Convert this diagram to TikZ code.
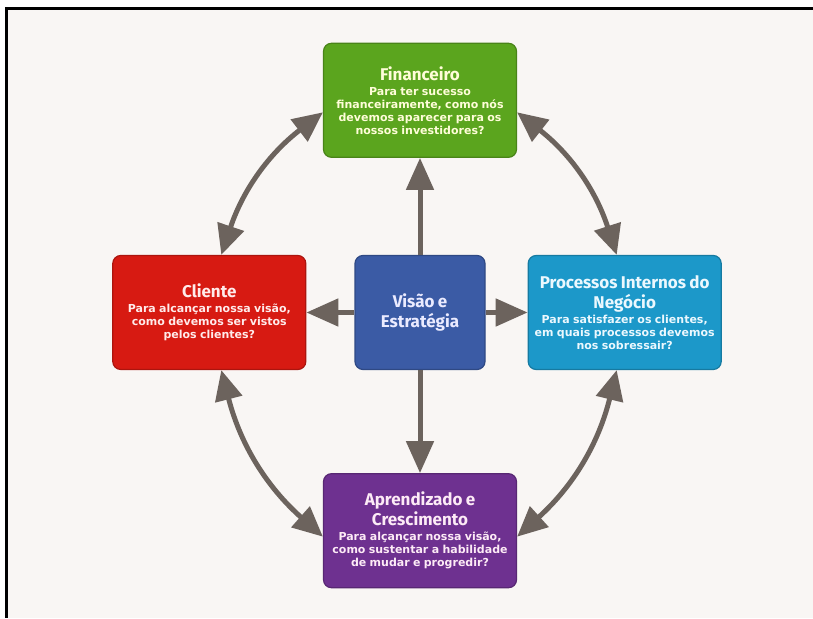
\documentclass[tikz,border=0pt]{standalone}
\usepackage{fontspec}
\setmainfont{DejaVu Sans}
\newfontfamily\titlefam{Fira Sans}
\newfontfamily\bodyfam{DejaVu Sans}
\usetikzlibrary{arrows.meta,positioning,calc}

\definecolor{paper}{HTML}{F9F6F4}
\definecolor{linkgray}{HTML}{6C635D}
\definecolor{fingreen}{HTML}{5BA51E}
\definecolor{clired}{HTML}{D71A12}
\definecolor{visblue}{HTML}{3B5BA5}
\definecolor{procyan}{HTML}{1C98C9}
\definecolor{aprpurple}{HTML}{6E3190}

\newcommand{\bsctitle}[1]{{\titlefam\bfseries\fontsize{17}{20}\selectfont #1\par}}
\newcommand{\bscbody}[1]{\vspace{2pt}{\bodyfam\bfseries\fontsize{11}{13}\selectfont #1\par}}

\tikzset{
  bsc/box/.style={draw=#1!80!black, fill=#1, line width=1.2pt, rounded corners=8pt,
    minimum width=193pt, minimum height=114pt, text width=189pt, align=center, inner sep=2pt},
  bsc/core/.style={bsc/box=#1, minimum width=130pt, text width=124pt},
  bsc/link/.style={draw=linkgray, line width=5pt, -{Triangle[length=32pt,width=27pt]}},
  bsc/twoway/.style={bsc/link, {Triangle[length=30pt,width=27pt]}-{Triangle[length=30pt,width=27pt]}}
}

\begin{document}
\begin{tikzpicture}[x=1pt, y=1pt]
  % page, frame
  \useasboundingbox (0,0) rectangle (813,618);
  \fill[white] (0,0) rectangle (813,618);
  \fill[paper] (6,0) rectangle (813,609);
  \draw[black, line width=3pt] (813,609) -- (6,609) -- (6,0);

  \node[bsc/core=visblue, text=blue!8!white] (vis) at (420,305.5)
    {\bsctitle{Visão e\\ Estratégia}};

  \node[bsc/box=clired, text=red!8!white, left=48pt of vis] (cli)
    {\bsctitle{Cliente}\bscbody{Para alcançar nossa visão,\\ como devemos ser vistos\\ pelos clientes?}};
  \node[bsc/box=procyan, text=cyan!8!white, right=42pt of vis] (proc)
    {\bsctitle{Processos Internos do\\ Negócio}\bscbody{Para satisfazer os clientes,\\ em quais processos devemos\\ nos sobressair?}};
  \node[bsc/box=fingreen, text=yellow!15!white, above=97pt of vis] (fin)
    {\bsctitle{Financeiro}\bscbody{Para ter sucesso\\ financeiramente, como nós\\ devemos aparecer para os\\ nossos investidores?}};
  \node[bsc/box=aprpurple, text=magenta!8!white, below=103pt of vis] (apr)
    {\bsctitle{Aprendizado e\\ Crescimento}\bscbody{Para alçançar nossa visão,\\ como sustentar a habilidade\\ de mudar e progredir?}};

  % from the centre outwards
  \draw[bsc/link] (vis) -- (fin);
  \draw[bsc/link] (vis) -- (apr);
  \draw[bsc/link] (vis) -- (cli);
  \draw[bsc/link] (vis) -- (proc);

  % round the outside
  \draw[bsc/twoway] ([xshift=12pt]cli.north) to[bend left=17] ([yshift=-12pt]fin.west);
  \draw[bsc/twoway] ([yshift=-12pt]fin.east) to[bend left=17] ([xshift=-8pt]proc.north);
  \draw[bsc/twoway] ([xshift=-8pt]proc.south) to[bend left=17] ([yshift=-6pt]apr.east);
  \draw[bsc/twoway] ([yshift=-6pt]apr.west) to[bend left=17] ([xshift=12pt]cli.south);
\end{tikzpicture}
\end{document}
